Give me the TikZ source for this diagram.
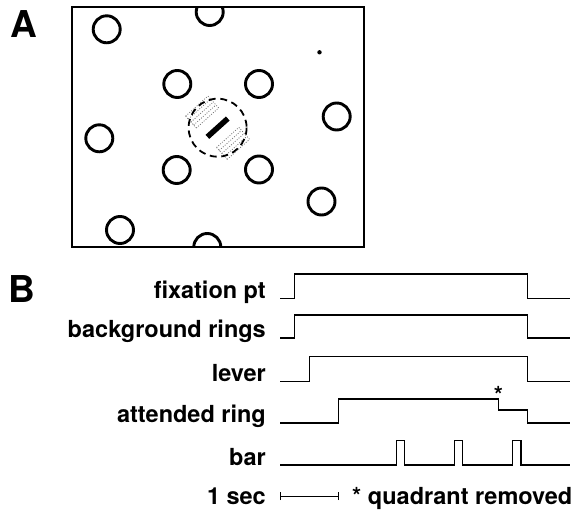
\documentclass[tikz,border=0pt]{standalone}
\usepackage{fontspec}
\setmainfont{TeX Gyre Heros}
\begin{document}
\begin{tikzpicture}[x=1pt,y=-1pt,
  ring/.style={line width=2.9pt},
  lbl/.style={font=\fontsize{23.5}{28}\selectfont\bfseries, anchor=base east, inner sep=0pt},
  note/.style={font=\fontsize{23.5}{28}\selectfont\bfseries, inner sep=0pt},
  sig/.style={line width=1.5pt, line join=miter},
  panel/.style={font=\fontsize{37}{40}\selectfont\bfseries, inner sep=0pt, anchor=north west},
  hatch/.style={black!55, line width=0.8pt, dash pattern=on 0.9pt off 1.6pt}]
\useasboundingbox (0,0) rectangle (571,513);

% panel labels
\node[panel] (A) at (10,10) {A};
\node[panel] (B) at (8.3,275) {B};

% ---------- panel A ----------
\draw[line width=1.3pt] (72,7) rectangle (364,247);
\begin{scope}
  \clip (72,7) rectangle (364,247);
  \foreach \cx/\cy in {106.7/29.3, 209.7/12, 177.3/84, 259/84, 336.7/116.5,
                       99.3/138.3, 176.7/170, 259/169.5, 321.5/201.5, 120/230, 207.3/247}
    \draw[ring] (\cx,\cy) circle[radius=13.5];
\end{scope}
\fill (319.5,52.3) circle[radius=2.2];

% hatched receptive-field patches and bar
\begin{scope}[shift={(217.6,127.7)}, x={(0.743pt,0.669pt)}, y={(-0.669pt,0.743pt)}]
  \foreach \v in {14,18,22,26,30}{
    \draw[hatch] (-16,\v) -- (14,\v);
    \draw[hatch] (-14,-\v) -- (16,-\v);
  }
  \draw[hatch] (-16,14) -- (-16,30) (14,14) -- (14,30);
  \draw[hatch] (-14,-14) -- (-14,-30) (16,-14) -- (16,-30);
  \draw[line width=5.5pt] (-13.7,0) -- (13.7,0);
\end{scope}
\draw[line width=1.8pt, dash pattern=on 7pt off 4.6pt] (217.6,127.7) circle[radius=29];

% ---------- panel B ----------
\node[lbl] (lfix) at (266,298.3) {fixation pt};
\node[lbl] (lbg)  at (266,338) {background rings};
\node[lbl] (llev) at (266,381.7) {lever};
\node[lbl] (latt) at (266,423) {attended ring};
\node[lbl] (lbar) at (266,465) {bar};
\node[lbl] (lsec) at (266,504) {1 sec};
\node[note, anchor=base west] (lquad) at (352,504) {* quadrant removed};
\node[note, anchor=base] (star) at (498.5,403) {*};

\draw[sig] (280,298.3) -- (294.3,298.3) -- (294.3,274) -- (527.3,274) -- (527.3,298.3) -- (570,298.3);
\draw[sig] (280,338) -- (294.3,338) -- (294.3,315) -- (527.3,315) -- (527.3,338) -- (570,338);
\draw[sig] (280,381.7) -- (309.3,381.7) -- (309.3,356.7) -- (527.3,356.7) -- (527.3,381.7) -- (570,381.7);
\draw[sig] (280,423) -- (338.5,423) -- (338.5,399) -- (498.3,399) -- (498.3,410) -- (527.3,410) -- (527.3,423) -- (570,423);
\draw[sig] (280,465) -- (396.7,465) -- (396.7,440.7) -- (404.3,440.7) -- (404.3,465)
  -- (454.3,465) -- (454.3,440.7) -- (462.7,440.7) -- (462.7,465)
  -- (512.3,465) -- (512.3,440.7) -- (521,440.7) -- (521,465) -- (570,465);

% scale bar
\coordinate (s1) at (280,496);
\coordinate (s2) at (338.3,496);
\draw[line width=1pt] (s1) -- (s2);
\draw[line width=1pt] ([yshift=-4pt]s1) -- ([yshift=4pt]s1);
\draw[line width=1pt] ([yshift=-4pt]s2) -- ([yshift=4pt]s2);
\end{tikzpicture}
\end{document}
